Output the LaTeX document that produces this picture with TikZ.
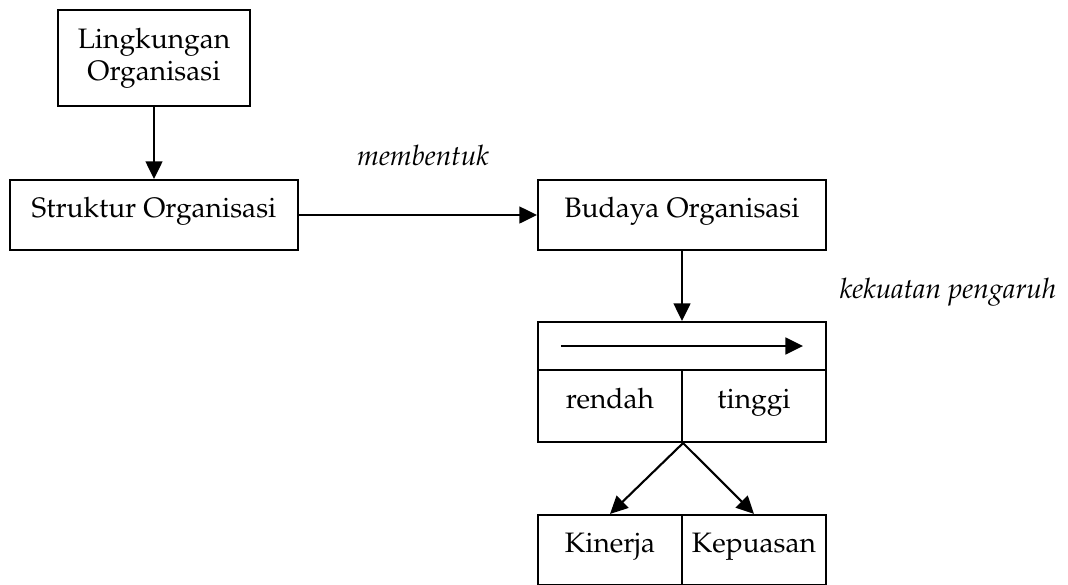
\documentclass[tikz,border=0pt]{standalone}
\usepackage[T1]{fontenc}
\usepackage{mathpazo}
\usepackage{tikz}
\usetikzlibrary{arrows.meta}
\usetikzlibrary{positioning}
\tikzset{>={Triangle[length=0.44cm,width=0.42cm]}}

\begin{document}
\begin{tikzpicture}[box/.style={rectangle, draw=black, line width=1.5pt, inner sep=0pt, font=\fontsize{20}{23}\selectfont},
	wide/.style={box, minimum width=7.2cm, minimum height=1.75cm, text height=1.6ex, text depth=0.9ex},
	cell/.style={box, minimum width=3.6cm, minimum height=1.8cm, text height=1.6ex, text depth=0.9ex},
	lbl/.style={font=\fontsize{20}{23}\selectfont\itshape},
	node distance=2.5cm, on grid]
		\useasboundingbox (0,0) rectangle (26.7,-14.6);
		\node[box, minimum width=4.8cm, minimum height=2.4cm, align=center] (ling) at (3.85,-1.45) {Lingkungan\\Organisasi};
		\node[wide] (struk) [below=3.925cm of ling] {Struktur Organisasi};
		\node[wide] (budaya) [right=13.2cm of struk] {Budaya Organisasi};
		\node[box, minimum width=7.2cm, minimum height=1.2cm] (skala) [below=3.275cm of budaya] {};
		\node[cell] (rendah) [below left=1.5cm and 1.8cm of skala] {rendah};
		\node[cell] (tinggi) [right=3.6cm of rendah] {tinggi};
		\node[cell, minimum height=1.75cm] (kinerja) [below=3.6cm of rendah] {Kinerja};
		\node[cell, minimum height=1.75cm] (kepuasan) [right=3.6cm of kinerja] {Kepuasan};
		\node[lbl] (membentuk) at (10.575,-3.875) {membentuk};
		\node[lbl] (kekuatan) at (23.7,-7.3) {kekuatan pengaruh};
		\path[->, line width=1.5pt]
			(ling) edge (struk)
			(struk) edge (budaya)
			(budaya) edge (skala)
			(rendah.south east) edge (kinerja.north)
			(rendah.south east) edge (kepuasan.north);
		\draw[->, line width=1.5pt] ([xshift=0.6cm]skala.west) -- ([xshift=-0.6cm]skala.east);
	\end{tikzpicture}
\end{document}
